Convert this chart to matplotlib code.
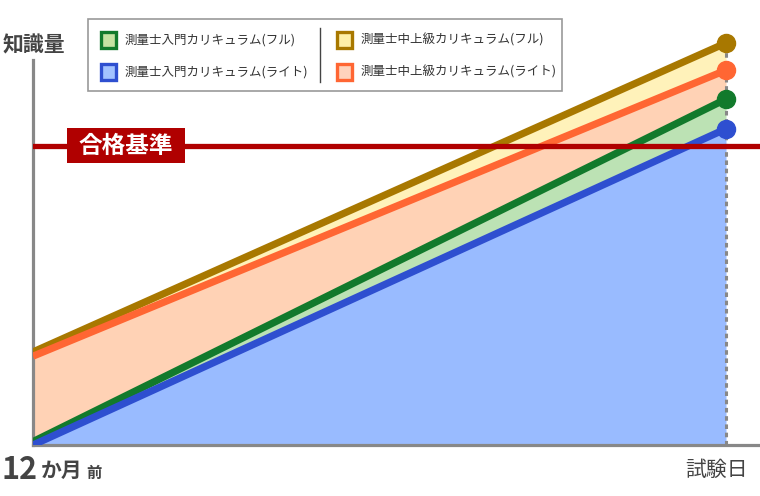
import matplotlib.pyplot as plt
from matplotlib.patches import Rectangle
from matplotlib.lines import Line2D

plt.rcParams['font.family'] = ['Noto Sans CJK JP', 'DejaVu Sans']

# time axis: 0 = 12 months before, 1 = exam day
x = [0.0, 1.0]

# knowledge levels (0 = baseline)
intro_light = [0.0, 74.4]
intro_full = [0.8, 81.4]
upper_light = [20.9, 88.2]
upper_full = [21.9, 94.6]
pass_level = 70.4

labels = [
    "測量士入門カリキュラム(フル)",
    "測量士入門カリキュラム(ライト)",
    "測量士中上級カリキュラム(フル)",
    "測量士中上級カリキュラム(ライト)",
]

line_colors = ["#127A2C", "#2E4FD0", "#A87800", "#FF6633"]
fill_colors = ["#BCE2B4", "#99BBFF", "#FFF2BA", "#FFD2B5"]
patch_fills = ["#C6E2A2", "#A2C2FF", "#FFF0A8", "#FFD3BC"]

W, H = 760, 496


def fx(px):
    return px / W


def fy(py):
    return 1 - py / H


fig = plt.figure(figsize=(7.6, 4.96), dpi=100)
ax = fig.add_axes([fx(33), 51 / H, 727 / W, 425 / H])
ax.set_xlim(0, 727 / 693)
ax.set_ylim(0, 100)

# filled bands
ax.fill_between(x, 0, intro_light, color=fill_colors[1], lw=0, zorder=1)
ax.fill_between(x, intro_light, intro_full, color=fill_colors[0], lw=0, zorder=1)
ax.fill_between(x, intro_full, upper_light, color=fill_colors[3], lw=0, zorder=1)
ax.fill_between(x, upper_light, upper_full, color=fill_colors[2], lw=0, zorder=1)

# exam-day dotted line
ax.plot([1, 1], [0, upper_full[1]], color="#888888", lw=2.2,
        linestyle=(0, (1.5, 1.2)), zorder=2)

# curriculum lines
series = [intro_full, intro_light, upper_full, upper_light]
for vals, c in zip(series, line_colors):
    ax.plot(x, vals, color=c, lw=5.2, solid_capstyle="butt", zorder=3)
    ax.plot([x[1]], [vals[1]], "o", color=c, markersize=13, zorder=5)

# pass level
ax.axhline(pass_level, xmin=0, xmax=724 / 727, color="#B00000", lw=3.8, zorder=4)
fig.add_artist(Rectangle((fx(67), fy(163)), 118 / W, 35 / H, transform=fig.transFigure,
                         fc="#B00000", ec="none", zorder=6))
fig.text(fx(126), fy(145.5), "合格基準", color="white", fontsize=17,
         fontweight="bold", va="center", ha="center", zorder=7)

# axes styling
for s in ["top", "right"]:
    ax.spines[s].set_visible(False)
ax.spines["left"].set_color("#888888")
ax.spines["left"].set_linewidth(2.3)
ax.spines["left"].set_bounds(0, 90.6)
ax.spines["bottom"].set_color("#888888")
ax.spines["bottom"].set_linewidth(2.3)
ax.set_xticks([])
ax.set_yticks([])
ax.patch.set_alpha(0)

# axis labels
fig.text(fx(3), fy(45), "知識量", fontsize=15, fontweight="bold",
         color="#444444", va="center", ha="left")
fig.text(fx(2), fy(470), "12", fontsize=22, fontweight="bold",
         color="#444444", va="center", ha="left")
fig.text(fx(41), fy(470), "か月", fontsize=15, fontweight="bold",
         color="#444444", va="center", ha="left")
fig.text(fx(86), fy(473), "前", fontsize=11, fontweight="bold",
         color="#444444", va="center", ha="left")
fig.text(fx(748), fy(470), "試験日", fontsize=15,
         color="#444444", va="center", ha="right")

# legend (drawn by hand to match the boxed two-column layout)
fig.add_artist(Rectangle((fx(88), fy(91)), 474 / W, 72 / H, transform=fig.transFigure,
                         fc="white", ec="#999999", lw=1.2, zorder=10))
fig.add_artist(Line2D([fx(320), fx(320)], [fy(28), fy(82)], color="#444444",
                      lw=1.0, zorder=11))
col_x = [100, 100, 336, 336]
row_y = [40, 72, 40, 72]
for i in range(4):
    fig.add_artist(Rectangle((fx(col_x[i] + 1), fy(row_y[i] + 7.5)), 15 / W, 15 / H,
                             transform=fig.transFigure, fc=patch_fills[i],
                             ec=line_colors[i], lw=2.4, zorder=11))
    fig.text(fx(col_x[i] + 25), fy(row_y[i]), labels[i], fontsize=9,
             color="#333333", va="center", ha="left", zorder=12)

fig.savefig("out.png", dpi=100)
